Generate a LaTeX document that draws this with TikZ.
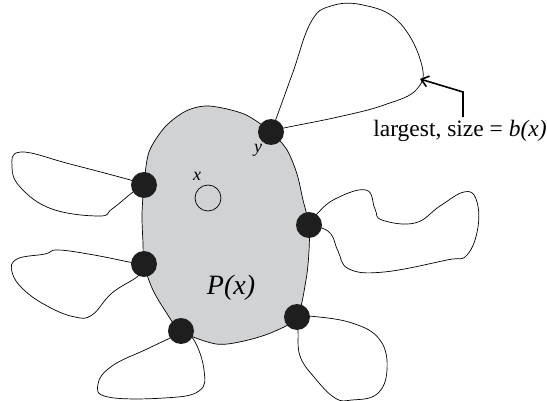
\documentclass[tikz,border=0pt]{standalone}
\usepackage{fontspec}
\setmainfont{Liberation Serif}
\usetikzlibrary{arrows.meta}
\definecolor{blobgray}{RGB}{209,210,212}
\definecolor{dotblack}{RGB}{30,30,30}

\begin{document}
\begin{tikzpicture}[x=1pt,y=-1pt]
    % Define styles
    \tikzstyle{vertex} = [circle, fill=dotblack, inner sep=0pt, minimum size=26pt]
    \tikzstyle{loop} = [draw, line width=0.7pt, smooth, tension=0.7]
    \tikzstyle{line} = [draw, line width=1.6pt, -{Straight Barb[length=7pt,width=11pt]}]
    \useasboundingbox (0,0) rectangle (547,401);

    % Attachment points on the region
    \coordinate (py) at (271,132);
    \coordinate (pr) at (309,225);
    \coordinate (pbr) at (297,317);
    \coordinate (pbl) at (181,331);
    \coordinate (pl2) at (144,264);
    \coordinate (pl1) at (144,185);

    % Region P(x)
    \draw[fill=blobgray, line width=0.7pt] plot[smooth cycle, tension=0.5] coordinates
        {(209,106) (244,114) (py) (287,150) (297,174) (303,200) (pr) (309,251) (306,280)
         (pbr) (273,332) (244,341) (216,344) (pbl) (164,309) (152,288) (pl2) (143,243)
         (142,215) (pl1) (149,152) (165,127) (186,111)};

    % Loops hanging off the region
    \path[loop] plot coordinates {(py) (276,119) (293,72) (311,22) (331,6) (363,5)
        (398,21) (421,62) (417,89) (384,105) (338,117) (284,128) (py)};
    \path[loop] plot coordinates {(pl1) (134,181) (70,164) (21,152) (12,167) (21,188)
        (52,209) (99,216) (112,209) (133,192) (pl1)};
    \path[loop] plot coordinates {(pl2) (134,263) (94,255) (58,250) (45,254) (17,259)
        (12,272) (24,290) (49,307) (75,317) (92,315) (112,293) (138,276) (pl2)};
    \path[loop] plot coordinates {(pbl) (174,336) (147,349) (112,366) (98,384) (108,397)
        (164,398) (199,391) (204,370) (194,340) (pbl)};
    \path[loop] plot coordinates {(pbr) (309,316) (352,323) (380,340) (387,370) (377,394)
        (352,400) (335,398) (314,377) (300,356) (298,331) (pbr)};
    \path[loop] plot coordinates {(pr) (316,215) (335,199) (366,190) (375,209) (382,220)
        (415,223) (440,206) (464,192) (476,199) (478,227) (467,255) (447,260) (384,272)
        (349,269) (338,251) (331,234) (319,227) (pr)};

    % Place nodes
    \node [vertex] (y) at (py) {};
    \node [vertex] (r) at (pr) {};
    \node [vertex] (br) at (pbr) {};
    \node [vertex] (bl) at (pbl) {};
    \node [vertex] (l2) at (pl2) {};
    \node [vertex] (l1) at (pl1) {};
    \node [circle, draw, line width=0.7pt, minimum size=26pt, inner sep=0pt] (x) at (208,198) {};
    \node [font=\fontsize{18}{20}\selectfont\itshape] (xlbl) at (197,176) {x};
    \node [font=\fontsize{18}{20}\selectfont\itshape] (ylbl) at (258,150) {y};
    \node [font=\fontsize{28}{32}\selectfont\itshape] (P) at (231,288) {P(x)};
    \node [font=\fontsize{23.5}{27}\selectfont, anchor=base] (lbl) at (460,137)
        {largest, size = \textit{b(x)}};

    % Draw arrow
    \coordinate (bend) at (463,92);
    \coordinate (tip) at (420,79);
    \path [line] (lbl.north -| bend) -- (bend) -- (tip);
\end{tikzpicture}
\end{document}
